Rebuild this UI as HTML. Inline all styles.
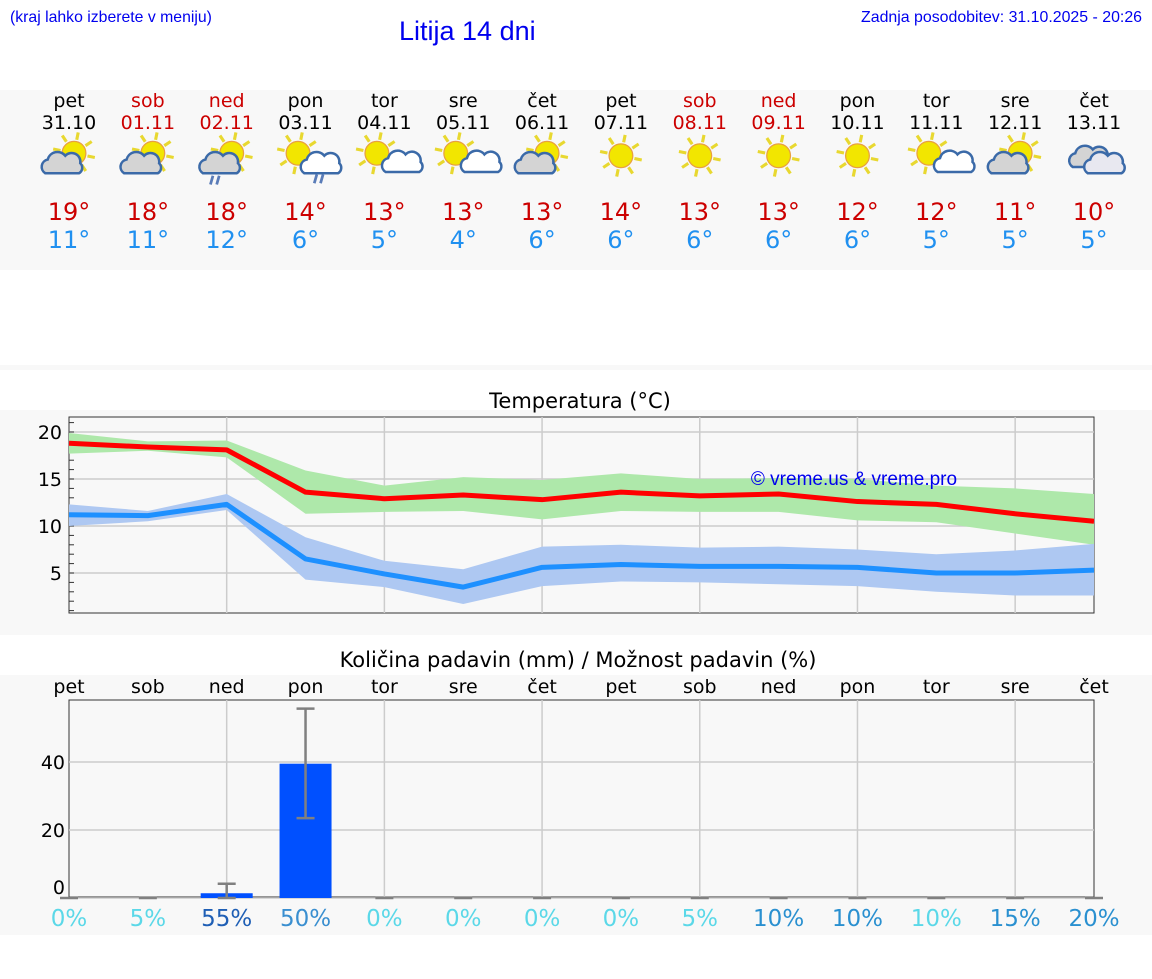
<!DOCTYPE html>
<html><head><meta charset="utf-8"><style>
body{margin:0;width:1152px;height:975px;background:#fff;font-family:"DejaVu Sans","Liberation Sans",sans-serif;overflow:hidden}
svg text{font-family:"DejaVu Sans","Liberation Sans",sans-serif}
</style></head><body>
<svg id="s" width="1152" height="975" xmlns="http://www.w3.org/2000/svg">
<rect x="0" y="90" width="1152" height="180" fill="#f8f8f8"/>
<rect x="0" y="365" width="1152" height="5" fill="#f8f8f8"/>
<rect x="0" y="410" width="1152" height="225" fill="#f8f8f8"/>
<rect x="0" y="675" width="1152" height="260" fill="#f8f8f8"/>
<text x="10" y="22" font-size="15.8" fill="#0000ee" style="font-family:'Liberation Sans'">(kraj lahko izberete v meniju)</text>
<text x="399" y="40" font-size="27" fill="#0000ee" style="font-family:'Liberation Sans'">Litija 14 dni</text>
<text x="1142" y="22" font-size="15.9" fill="#0000ee" text-anchor="end" style="font-family:'Liberation Sans'">Zadnja posodobitev: 31.10.2025 - 20:26</text>
<text x="580" y="408" font-size="21" text-anchor="middle">Temperatura (°C)</text>
<text x="578" y="667" font-size="21" text-anchor="middle">Količina padavin (mm) / Možnost padavin (%)</text>
<g id="g"></g>
<text x="854" y="485" font-size="19" fill="#0000ee" style="font-family:'Liberation Sans'" text-anchor="middle">© vreme.us &amp; vreme.pro</text>
</svg>
<script>
const days=["pet","sob","ned","pon","tor","sre","čet","pet","sob","ned","pon","tor","sre","čet"];
const dates=["31.10","01.11","02.11","03.11","04.11","05.11","06.11","07.11","08.11","09.11","10.11","11.11","12.11","13.11"];
const weekend=[0,1,1,0,0,0,0,0,1,1,0,0,0,0];
const icons=["pc","pc","pcr","scr","sc","sc","pc","s","s","s","s","sc","pc","c"];
const hiDay=[19,18,18,14,13,13,13,14,13,13,12,12,11,10];
const loDay=[11,11,12,6,5,4,6,6,6,6,6,5,5,5];
const tMax=[18.8,18.4,18.1,13.6,12.9,13.3,12.8,13.6,13.2,13.4,12.6,12.3,11.3,10.5];
const tMaxHi=[19.9,19.0,19.1,15.9,14.3,15.2,14.9,15.6,15.0,15.1,15.0,14.3,14.0,13.4];
const tMaxLo=[17.7,18.0,17.3,11.3,11.5,11.6,10.7,11.6,11.5,11.5,10.6,10.4,9.2,8.0];
const tMin=[11.2,11.1,12.3,6.5,4.9,3.5,5.6,5.9,5.7,5.7,5.6,5.0,5.0,5.3];
const tMinHi=[12.3,11.6,13.4,8.8,6.3,5.4,7.8,8.0,7.7,7.8,7.5,7.0,7.4,8.1];
const tMinLo=[10.0,10.5,11.7,4.3,3.5,1.7,3.6,4.1,4.0,3.8,3.6,3.0,2.6,2.6];
const tTicks=[5,10,15,20];
const rain=[0,0,1.4,39.5,0,0,0,0,0,0,0,0,0,0];
const rainLo=[0,0,0,23.5,0,0,0,0,0,0,0,0,0,0];
const rainHi=[0,0,4.2,55.7,0,0,0,0,0,0,0,0,0,0];
const prob=[0,5,55,50,0,0,0,0,5,10,10,10,15,20];
const probCol=["#5bd8e8","#5bd8e8","#1f5fb5","#3a8fd0","#5bd8e8","#5bd8e8","#5bd8e8","#5bd8e8","#5bd8e8","#2a90d0","#2a90d0","#5bd8e8","#2a90d0","#2a90d0"];
const rTicks=[0,20,40];
const NS="http://www.w3.org/2000/svg",G=document.getElementById("g");
function el(t,a,txt){const e=document.createElementNS(NS,t);for(const k in a)e.setAttribute(k,a[k]);if(txt!==undefined)e.textContent=txt;G.appendChild(e);return e;}
const X=i=>69+i*(1094-69)/13;
const TY=v=>620-v*9.4;
const RY=v=>898-v*3.4;
days.forEach((d,i)=>{
 const c=weekend[i]?"#cc0000":"#000";
 let e=el("text",{x:X(i),y:107,"font-size":19,fill:c,"text-anchor":"middle"},d);
 
 
 e=el("text",{x:X(i),y:129,"font-size":19,fill:c,"text-anchor":"middle"},dates[i]);
 
 
 e=el("text",{x:X(i),y:220,"font-size":24,fill:"#cc0000","text-anchor":"middle"},hiDay[i]+"°");
 
 
 e=el("text",{x:X(i),y:248,"font-size":24,fill:"#2090f0","text-anchor":"middle"},loDay[i]+"°");
 
 
 const cx=X(i),t=icons[i];
 const g=document.createElementNS(NS,"g");G.appendChild(g);
 
 
 g.setAttribute('transform',`translate(${cx},162) scale(1.25) translate(${-cx},-162)`);
 let sx=cx+4,sy=155;
 if(t=="s"){sx=cx;sy=157;}
 if(t=="scr"||t=="sc"){sx=cx-6;sy=155;}
 let h="";
 if(t!="c"){for(let k=0;k<8;k++){const a=k*Math.PI/4+0.2;h+=`<line x1="${sx+Math.cos(a)*11}" y1="${sy+Math.sin(a)*11}" x2="${sx+Math.cos(a)*17}" y2="${sy+Math.sin(a)*17}" stroke="#e8d830" stroke-width="2.5"/>`;}
 h+=`<circle cx="${sx}" cy="${sy}" r="9.5" fill="#f2e600" stroke="#e8a040" stroke-width="1"/>`;}
 const cl=(x,y,s,f)=>`<path d="M${x-13*s},${y+7*s} a6 6 0 0 1 2,-11 a8 8 0 0 1 14,-3 a7 7 0 0 1 12,6 a5 5 0 0 1 -1,8 z" fill="${f}" stroke="#3b6aa8" stroke-width="2"/>`;
 if(t=="pc"||t=="pcr")h+=cl(cx-6,164,1,"#d4d4d4");
 if(t=="scr"||t=="sc")h+=cl(cx+12,164,t=="sc"?0.85:1,"#fff");
 if(t=="c"){h+=cl(cx-4,159,1,"#d4d4d4")+cl(cx+8,164,1,"#e8e8f0");}
 if(t=="pcr")h+=`<path d="M${cx-13},180 l2,-7 M${cx-8},180 l2,-7" stroke="#5a7cb8" stroke-width="2.2"/>`;
 if(t=="scr")h+=`<path d="M${cx+7},179 l2,-7 M${cx+12},179 l2,-7" stroke="#5a7cb8" stroke-width="2.2"/>`;
 g.innerHTML=h;
});
let e=el("rect",{x:69,y:417,width:1025,height:196,fill:"none",stroke:"#333","stroke-width":1});


tTicks.forEach(v=>{let l=el("line",{x1:69,x2:1094,y1:TY(v),y2:TY(v),stroke:"#ccc","stroke-width":1.5});
 
 
 let t=el("text",{x:62,y:TY(v)+7,"font-size":19,"text-anchor":"end"},v);
 
 });
for(let v=1;v<=21;v++){let l=el("line",{x1:69,x2:74,y1:TY(v),y2:TY(v),stroke:"#333"});}
for(let i=2;i<14;i+=2){let l=el("line",{x1:X(i),x2:X(i),y1:417,y2:613,stroke:"#ccc","stroke-width":1.5});}
const band=(hi,lo,c,n)=>{let d=hi.map((v,i)=>(i?"L":"M")+X(i)+","+TY(v)).join("")+lo.map((v,i)=>i).reverse().map(i=>"L"+X(i)+","+TY(lo[i])).join("")+"Z";
 let p=el("path",{d:d,fill:c});};
const line=(a,c,n)=>{let p=el("path",{d:a.map((v,i)=>(i?"L":"M")+X(i)+","+TY(v)).join(""),fill:"none",stroke:c,"stroke-width":5,"stroke-linejoin":"round"});};
band(tMaxHi,tMaxLo,"#aee8aa","max-temp-range");
band(tMinHi,tMinLo,"#aec8f2","min-temp-range");
line(tMax,"#ff0000","max-temp-line");
line(tMin,"#1e90ff","min-temp-line");
e=el("rect",{x:69,y:700,width:1025,height:197,fill:"none",stroke:"#333","stroke-width":1});


rTicks.forEach(v=>{let l=el("line",{x1:69,x2:1094,y1:RY(v),y2:RY(v),stroke:"#ccc","stroke-width":1.5});
 
 
 let t=el("text",{x:65,y:RY(v)+(v?7:-4),"font-size":19,"text-anchor":"end"},v);
 
 });
for(let i=2;i<14;i+=2){let l=el("line",{x1:X(i),x2:X(i),y1:700,y2:897,stroke:"#ccc","stroke-width":1.5});}
days.forEach((d,i)=>{
 let t=el("text",{x:X(i),y:693,"font-size":19,"text-anchor":"middle"},d);
 
 
 if(rain[i]>0){let b=el("rect",{x:X(i)-26,y:RY(rain[i]),width:52,height:RY(0)-RY(rain[i]),fill:"#0050ff"});
  
  }
 let eb=el("path",{d:`M${X(i)},${RY(rainLo[i])}V${RY(rainHi[i])}M${X(i)-9},${RY(rainHi[i])}h18M${X(i)-9},${RY(rainLo[i])}h18`,stroke:"#808080","stroke-width":2.5,fill:"none"});
 
 
 t=el("text",{x:X(i),y:926,"font-size":23,fill:probCol[i],"text-anchor":"middle"},prob[i]+"%");
 
 
});
</script>
</body></html>
